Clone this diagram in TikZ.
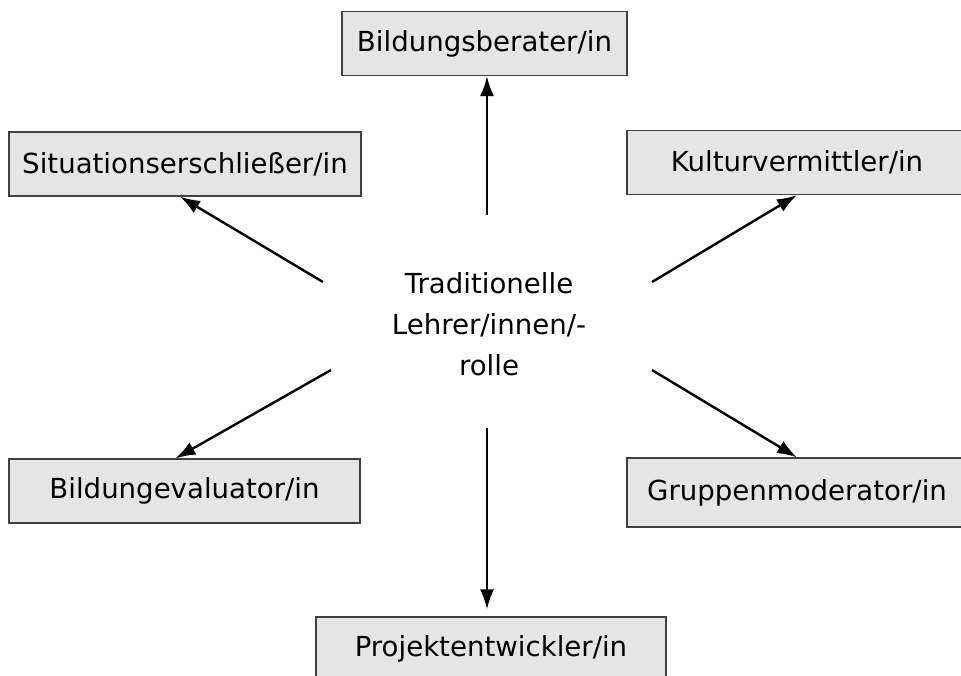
\documentclass[tikz,border=0pt]{standalone}
\usepackage{fontspec}
\setmainfont{DejaVu Sans}
\usetikzlibrary{arrows.meta}

\begin{document}
\begin{tikzpicture}[x=0.5pt, y=-0.5pt,
  rolebox/.style={draw=black!75, line width=0.6pt, fill=black!10, minimum height=32pt, inner sep=0pt, font=\fontsize{13.8}{17}\selectfont},
  rolearrow/.style={-{Latex[length=10pt, width=7pt]}, line width=1.2pt}]
\useasboundingbox (0,0) rectangle (961,675);
\clip (0,0) rectangle (961,675);

% Draw boxes
\node[rolebox, minimum width=142.5pt] (berater) at (484.5,43.5) {Bildungsberater/in};
\node[rolebox, minimum width=176pt] (erschl) at (185,164) {Situationserschließer/in};
\node[rolebox, minimum width=170pt] (kultur) at (797,162.5) {Kulturvermittler/in};
\node[rolebox, minimum width=175.5pt] (evalu) at (184.5,491) {Bildungevaluator/in};
\node[rolebox, minimum width=170pt, minimum height=34.5pt] (gruppe) at (797,492.5) {Gruppenmoderator/in};
\node[rolebox, minimum width=175pt] (projekt) at (491,649) {Projektentwickler/in};

% Draw centre text
\node[align=center, font=\fontsize{13.8}{20.5}\selectfont] (rolle) at (489,324) {Traditionelle\\Lehrer/innen/-\\rolle};

% Draw arrows
\coordinate (n) at (487,215);
\coordinate (s) at (487,428);
\coordinate (nw) at (323,282);
\coordinate (ne) at (652,282);
\coordinate (sw) at (331,370);
\coordinate (se) at (652,370);
\draw[rolearrow] (n) -- (n |- berater.south);
\draw[rolearrow, shorten >=3.5pt] (s) -- (s |- projekt.north);
\draw[rolearrow] (nw) -- ([xshift=-2.5pt]erschl.south);
\draw[rolearrow] (ne) -- (kultur.south);
\draw[rolearrow] (sw) -- ([xshift=-4.5pt]evalu.north);
\draw[rolearrow] (se) -- (gruppe.north);
\end{tikzpicture}
\end{document}
